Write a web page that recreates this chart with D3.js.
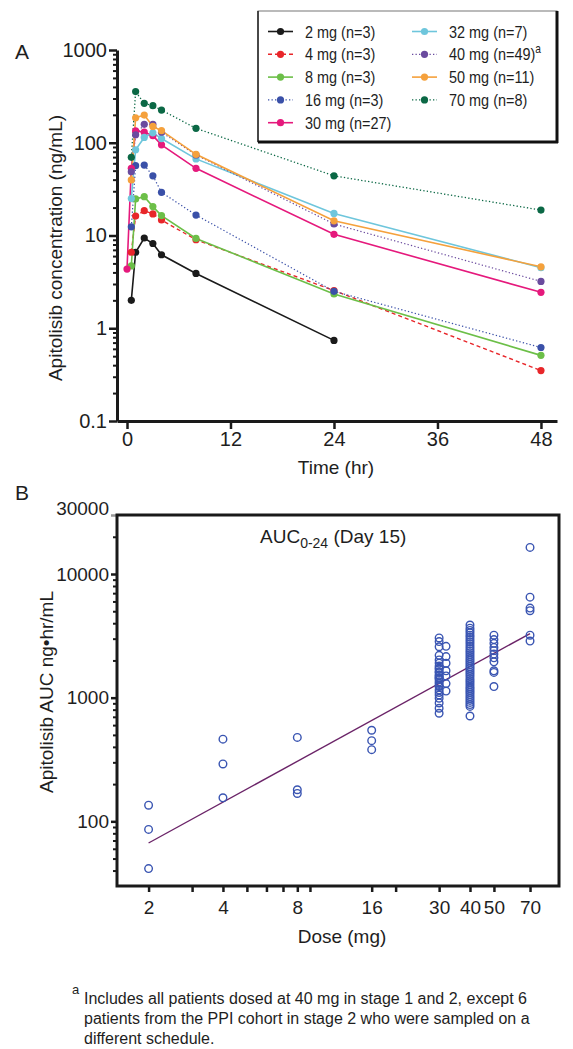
<!DOCTYPE html>
<html><head><meta charset="utf-8">
<script src="https://cdn.jsdelivr.net/npm/d3@7"></script>
<style>
body{margin:0;background:#fff}
svg text{font-family:"Liberation Sans",Arial,Helvetica,sans-serif;fill:#1e1e1e}
</style>
</head><body>
<svg id="c" width="573" height="1049"></svg>
<script>
// ---------- Panel A data : concentration (ng/mL) vs time (hr) ----------
const times = [0, 0.5, 1, 2, 3, 4, 8, 24, 48];
const conc_2mg  = [null, 2.0, 6.6, 9.4, 8.2, 6.2, 3.9, 0.74, null];
const conc_4mg  = [null, 6.6, 16.2, 18.5, 17.1, 14.7, 9.0, 2.55, 0.35];
const conc_8mg  = [null, 4.7, 24.8, 26.2, 20.5, 16.4, 9.3, 2.34, 0.51];
const conc_16mg = [null, 12.4, 56.6, 57.5, 44, 29.2, 16.6, 2.5, 0.62];
const conc_30mg = [4.35, 53, 134, 130, 119, 95, 53, 10.3, 2.44];
const conc_32mg = [null, 25, 84, 114, 128, 111, 67, 17.3, 4.5];
const conc_40mg = [null, 48.7, 122, 158, 158, 130, 74, 13.3, 3.2];
const conc_50mg = [null, 39.7, 186, 199, 150, 135, 75, 14.4, 4.6];
const conc_70mg = [null, 69.7, 356, 266, 251, 225, 143, 44, 18.8];
const seriesLabels = ["2 mg (n=3)","4 mg (n=3)","8 mg (n=3)","16 mg (n=3)","30 mg (n=27)",
                      "32 mg (n=7)","40 mg (n=49)","50 mg (n=11)","70 mg (n=8)"];
const timeTicks = [0, 12, 24, 36, 48];
const concTicks = [0.1, 1, 10, 100, 1000];

// ---------- Panel B data : AUC0-24 (ng·hr/mL) vs dose (mg) ----------
const aucDoses = [2, 4, 8, 16, 30, 32, 40, 50, 70];
const auc_2mg  = [135, 86, 41.5];
const auc_4mg  = [462, 291, 155];
const auc_8mg  = [477, 180, 168];
const auc_16mg = [545, 449, 380];
const auc_30mg = [3040, 2840, 2580, 2200, 2020, 1905, 1800, 1738, 1700, 1622, 1600, 1524, 1500,
                  1442, 1400, 1346, 1300, 1250, 1227, 1154, 1100, 1051, 989, 906, 821, 748, 1450];
const auc_32mg = [2600, 2150, 1900, 1650, 1500, 1300, 1130];
const auc_40mg = [3870, 3650, 3500, 3350, 3200, 3080, 2950, 2830, 2720, 2600, 2500, 2400, 2310,
                  2220, 2140, 2060, 1990, 1920, 1850, 1780, 1720, 1660, 1600, 1540, 1480, 1420,
                  1370, 1320, 1270, 1220, 1180, 1140, 1100, 1060, 1020, 985, 950, 915, 880, 850, 711];
const auc_50mg = [3200, 2950, 2750, 2550, 2400, 2250, 2100, 1950, 1650, 1600, 1230];
const auc_70mg = [16400, 6500, 5300, 5050, 3200, 2870];
const fitDose = [2, 70];
const fitAUC  = [66.8, 3300];
const doseTicks = [2, 4, 8, 16, 30, 40, 50, 70];
const doseMinor = [3, 5, 6, 7, 9, 20];
const aucTicks = [100, 1000, 10000];

// ---------- styles ----------
const concSeries = [conc_2mg, conc_4mg, conc_8mg, conc_16mg, conc_30mg, conc_32mg, conc_40mg, conc_50mg, conc_70mg];
const colors = ["#1a1a1a","#e8262a","#6cbf48","#3a50a8","#e5197c","#6ec6dc","#6a4b9e","#f5a13c","#0b6845"];
const dashes = [null,"4,3",null,"1.3,2.2",null,null,"1.3,2.2",null,"1.3,2.2"];
const widths = [1.6,1.4,1.6,1.2,1.6,1.6,1.2,1.6,1.3];

const svg = d3.select("#c");

// ================= PANEL A =================
const xA = d3.scaleLinear().domain([-1.16, 49.86]).range([117, 557]);
const yA = d3.scaleLog().domain([0.1, 1000]).range([421, 50]);

const minorA = [];
[0.1, 1, 10, 100].forEach(d => { for (let k = 2; k <= 9; k++) minorA.push(d * k); });
const gYm = svg.append("g").attr("transform","translate(117,0)")
  .call(d3.axisLeft(yA).tickValues(minorA).tickSize(4).tickFormat(""));
gYm.select(".domain").remove();
gYm.selectAll("line").attr("stroke","#1a1a1a").attr("stroke-width",2);

const gYA = svg.append("g").attr("transform","translate(117,0)")
  .call(d3.axisLeft(yA).tickValues(concTicks).tickSize(8).tickPadding(2).tickSizeOuter(0).tickFormat(d3.format("~g")));
gYA.select(".domain").attr("stroke","#1a1a1a").attr("stroke-width",3);
gYA.selectAll("line").attr("stroke","#1a1a1a").attr("stroke-width",2.5);
gYA.selectAll("text").attr("font-size",20).attr("fill","#1e1e1e");

const gXA = svg.append("g").attr("transform","translate(0,421)")
  .call(d3.axisBottom(xA).tickValues(timeTicks).tickSize(8).tickPadding(3).tickSizeOuter(0));
gXA.select(".domain").attr("stroke","#1a1a1a").attr("stroke-width",3);
gXA.selectAll("line").attr("stroke","#1a1a1a").attr("stroke-width",2.5);
gXA.selectAll("text").attr("font-size",20).attr("fill","#1e1e1e");

svg.append("text").attr("x",15).attr("y",59).attr("font-size",21).text("A");
svg.append("text").attr("transform","translate(62,248) rotate(-90)").attr("text-anchor","middle")
  .attr("font-size",19).text("Apitolisib concentration (ng/mL)");
svg.append("text").attr("x",336).attr("y",474).attr("text-anchor","middle").attr("font-size",19).text("Time (hr)");

const lineA = d3.line().defined(d => d.v != null).x(d => xA(d.t)).y(d => yA(d.v));
concSeries.forEach((s, i) => {
  const pts = times.map((t, j) => ({t, v: s[j]}));
  svg.append("path").datum(pts).attr("d", lineA).attr("fill","none")
    .attr("stroke", colors[i]).attr("stroke-width", widths[i])
    .attr("stroke-dasharray", dashes[i]);
});
concSeries.forEach((s, i) => {
  const pts = times.map((t, j) => ({t, v: s[j]})).filter(d => d.v != null);
  svg.append("g").selectAll("circle").data(pts).join("circle")
    .attr("cx", d => xA(d.t)).attr("cy", d => yA(d.v)).attr("r", 3.6)
    .attr("fill", colors[i]);
});

// legend
const lg = svg.append("g");
lg.append("rect").attr("x",258).attr("y",11).attr("width",299).attr("height",131)
  .attr("fill","#fff").attr("stroke","#777").attr("stroke-width",1);
lg.append("line").attr("x1",258).attr("x2",258).attr("y1",11).attr("y2",142).attr("stroke","#222").attr("stroke-width",1.5);
lg.append("line").attr("x1",557).attr("x2",557).attr("y1",11).attr("y2",143).attr("stroke","#111").attr("stroke-width",3);
lg.append("line").attr("x1",258).attr("x2",558).attr("y1",142).attr("y2",142).attr("stroke","#111").attr("stroke-width",3);
seriesLabels.forEach((lab, i) => {
  const col = i < 5 ? 0 : 1;
  const row = i < 5 ? i : i - 5;
  const lx = col === 0 ? 268 : 412;
  const ly = 31.5 + row * 22.8;
  lg.append("line").attr("x1",lx).attr("x2",lx+25).attr("y1",ly).attr("y2",ly)
    .attr("stroke",colors[i]).attr("stroke-width",widths[i]).attr("stroke-dasharray",dashes[i]);
  lg.append("circle").attr("cx",lx+12.5).attr("cy",ly).attr("r",3.6).attr("fill",colors[i]);
  const t = lg.append("text").attr("transform",`translate(${lx+37},${ly+6}) scale(0.85,1)`)
    .attr("font-size",17).text(lab);
  if (i === 6) t.append("tspan").attr("font-size",12).attr("dy",-7).text("a");
});

// ================= PANEL B =================
const xB = d3.scaleLog().domain([1.49, 91.7]).range([117, 559]);
const yB = d3.scaleLog().domain([30, 30000]).range([886, 515]);

const minorB = [];
[10, 100, 1000, 10000].forEach(d => { for (let k = 2; k <= 9; k++) { const v = d * k; if (v > 30 && v < 30000) minorB.push(v); } });
const gYBm = svg.append("g").attr("transform","translate(117,0)")
  .call(d3.axisLeft(yB).tickValues(minorB).tickSize(4).tickFormat(""));
gYBm.select(".domain").remove();
gYBm.selectAll("line").attr("stroke","#1a1a1a").attr("stroke-width",2);

const gYB = svg.append("g").attr("transform","translate(117,0)")
  .call(d3.axisLeft(yB).tickValues(aucTicks.concat([30000])).tickSize(6).tickPadding(2).tickSizeOuter(0).tickFormat(d3.format("d")));
gYB.select(".domain").remove();
gYB.selectAll("line").attr("stroke","#1a1a1a").attr("stroke-width",2.5);
gYB.selectAll(".tick").filter(d => d === 30000).select("line").attr("stroke","#999");
gYB.selectAll("text").attr("font-size",19).attr("fill","#1e1e1e");
gYB.selectAll(".tick").filter(d => d === 30000).select("text").attr("dy","-0.05em");

const gXBm = svg.append("g").attr("transform","translate(0,886)")
  .call(d3.axisBottom(xB).tickValues(doseMinor).tickSize(6).tickFormat(""));
gXBm.select(".domain").remove();
gXBm.selectAll("line").attr("stroke","#1a1a1a").attr("stroke-width",2.5);

const gXB = svg.append("g").attr("transform","translate(0,886)")
  .call(d3.axisBottom(xB).tickValues(doseTicks).tickSize(6).tickPadding(9).tickSizeOuter(0).tickFormat(d3.format("d")));
gXB.select(".domain").remove();
gXB.selectAll("line").attr("stroke","#1a1a1a").attr("stroke-width",2.5);
gXB.selectAll("text").attr("font-size",19).attr("fill","#1e1e1e");

svg.append("rect").attr("x",117).attr("y",515).attr("width",442).attr("height",371)
  .attr("fill","none").attr("stroke","#1a1a1a").attr("stroke-width",3);

svg.append("text").attr("x",15).attr("y",500).attr("font-size",21).text("B");
svg.append("text").attr("transform","translate(53,692) rotate(-90)").attr("text-anchor","middle")
  .attr("font-size",19).text("Apitolisib AUC ng\u2022hr/mL");
svg.append("text").attr("x",342).attr("y",943).attr("text-anchor","middle").attr("font-size",19).text("Dose (mg)");
const ttl = svg.append("text").attr("x",260).attr("y",543).attr("font-size",19);
ttl.append("tspan").text("AUC");
ttl.append("tspan").attr("font-size",14).attr("dy",5).text("0-24");
ttl.append("tspan").attr("dy",-5).text(" (Day 15)");

// regression line
svg.append("path").datum(fitDose.map((d, i) => ({d, v: fitAUC[i]})))
  .attr("d", d3.line().x(p => xB(p.d)).y(p => yB(p.v)))
  .attr("fill","none").attr("stroke","#6b2468").attr("stroke-width",1.4);

const aucGroups = [auc_2mg, auc_4mg, auc_8mg, auc_16mg, auc_30mg, auc_32mg, auc_40mg, auc_50mg, auc_70mg];
const pointsB = [];
aucGroups.forEach((g, i) => g.forEach(v => pointsB.push({d: aucDoses[i], v})));
svg.append("g").selectAll("circle").data(pointsB).join("circle")
  .attr("cx", p => xB(p.d)).attr("cy", p => yB(p.v)).attr("r", 3.8)
  .attr("fill","none").attr("stroke","#3a55b2").attr("stroke-width",1.4);

// footnote
svg.append("text").attr("x",72).attr("y",994).attr("font-size",13).text("a");
const fn = ["Includes all patients dosed at 40 mg in stage 1 and 2, except 6",
            "patients from the PPI cohort in stage 2 who were sampled on a",
            "different schedule."];
fn.forEach((l, i) => svg.append("text").attr("x",84).attr("y",1004 + i * 20).attr("font-size",16).text(l));
</script>
</body></html>
